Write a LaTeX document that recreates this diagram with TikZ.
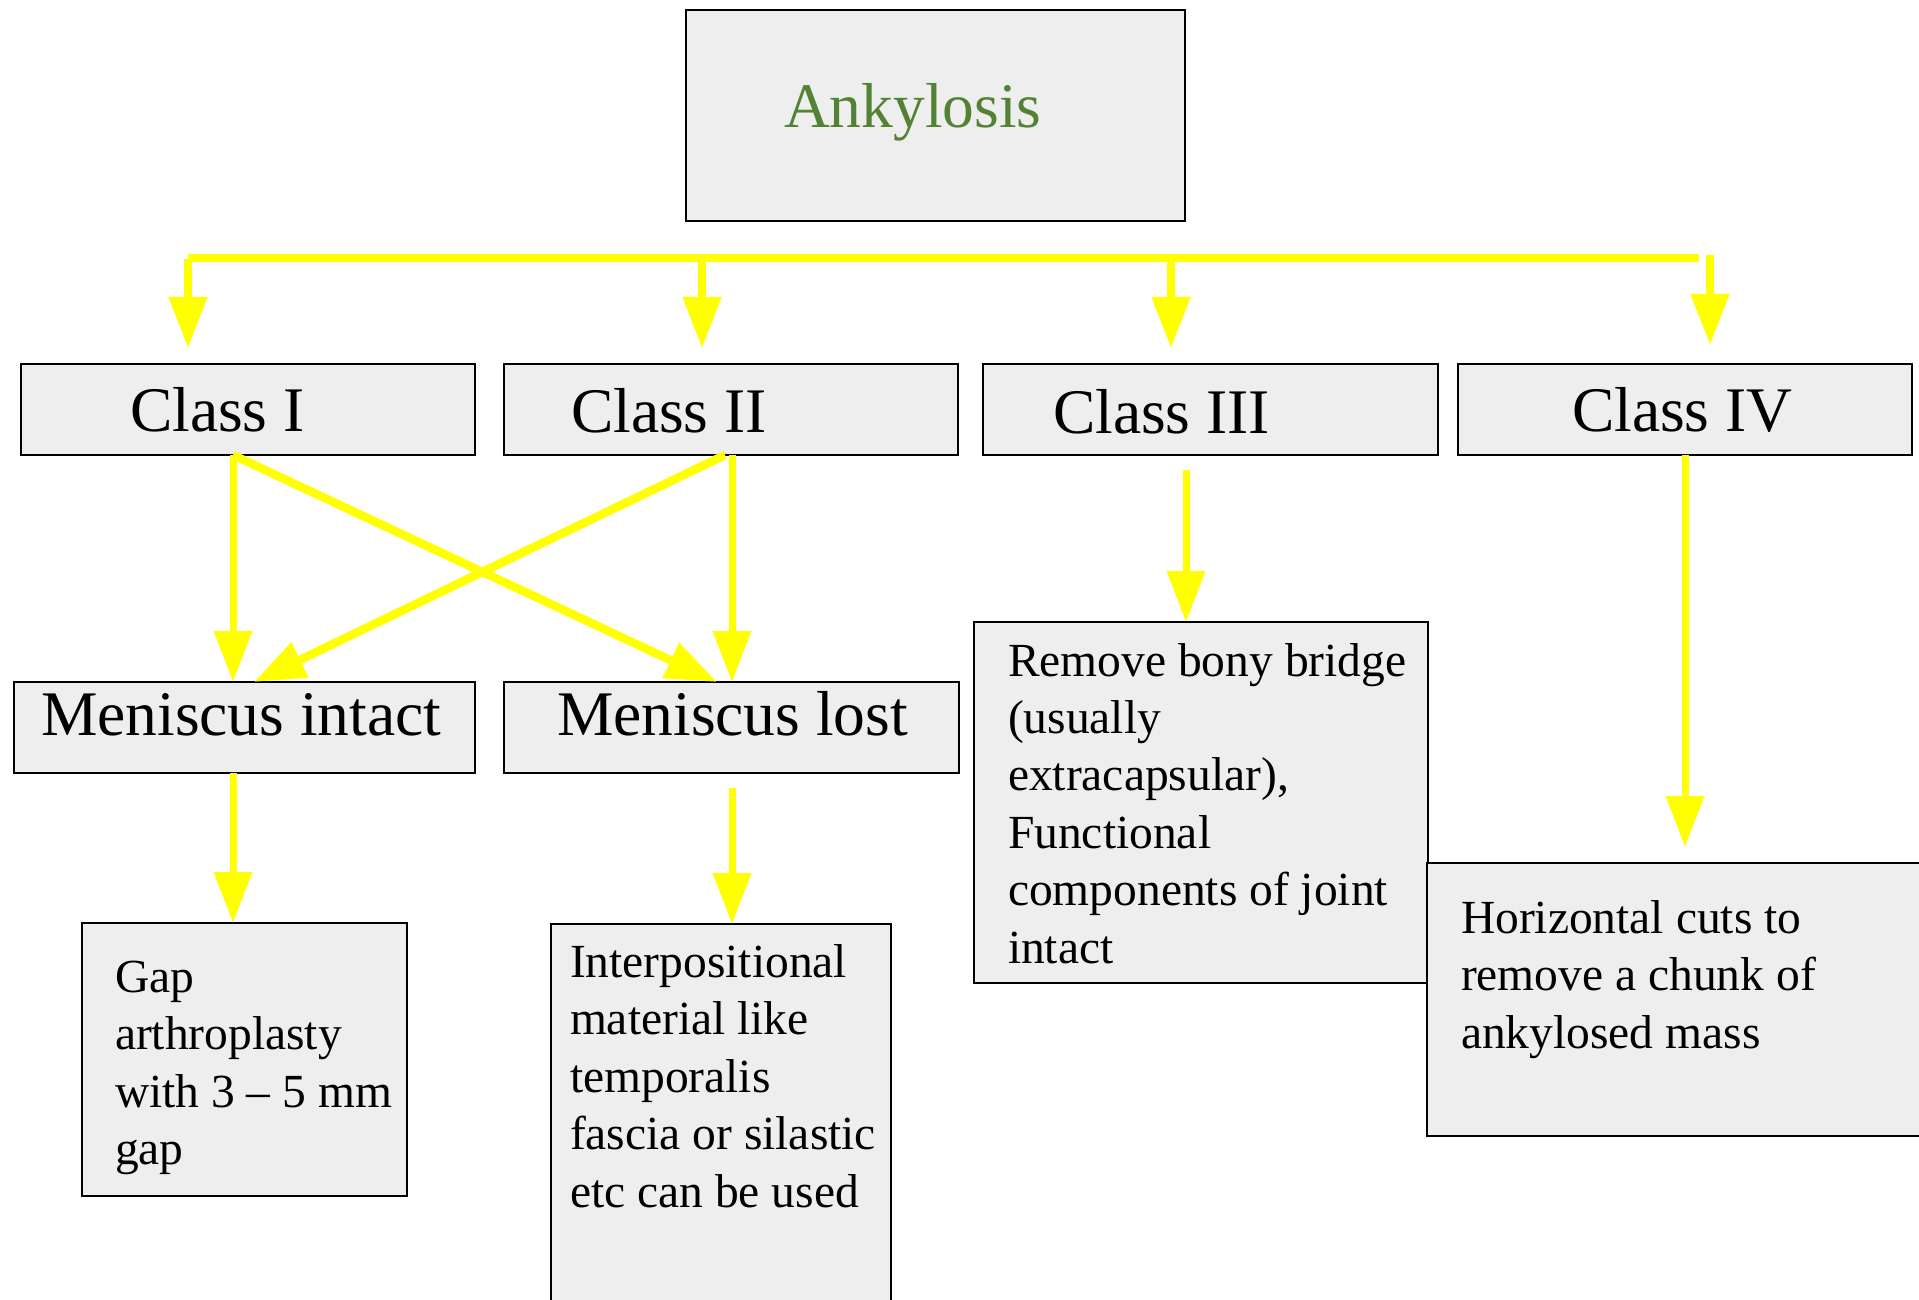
\documentclass[tikz,border=0pt]{standalone}
\usepackage{fontspec}
\setmainfont{Liberation Serif}
\usetikzlibrary{arrows.meta}
\definecolor{boxgray}{HTML}{EEEEEE}
\definecolor{ylw}{HTML}{FFFF00}
\definecolor{ankgreen}{RGB}{84,130,53}
\newcommand\bigtxt{\fontsize{31.75pt}{38pt}\selectfont}
\newcommand\smtxt{\fontsize{23.75pt}{28.75pt}\selectfont}
\begin{document}
\begin{tikzpicture}[x=0.5pt,y=-0.5pt,
  box/.style={draw=black, line width=1pt, fill=boxgray, anchor=north west,
              inner sep=0pt, outer sep=0pt},
  big/.style={anchor=base west, inner sep=0pt, outer sep=0pt, font=\bigtxt},
  sm/.style={anchor=base west, inner sep=0pt, outer sep=0pt, font=\smtxt},
  yarrow/.style={draw=ylw, line width=3.5pt, -{Triangle[length=25.5pt,width=18.5pt]}},
  yarrowd/.style={draw=ylw, line width=4.25pt, -{Triangle[length=25.5pt,width=18.5pt]}},
  ybus/.style={draw=ylw, line width=4pt}]
\path[use as bounding box] (0,0) rectangle (1919,1300);
\begin{scope}
\clip (0,0) rectangle (1919,1300);
% boxes
\node[box, minimum width=249.5pt, minimum height=105.5pt] (ank) at (686,10) {};
\node[box, minimum width=227pt, minimum height=45.5pt] (c1) at (21,364) {};
\node[box, minimum width=227pt, minimum height=45.5pt] (c2) at (504,364) {};
\node[box, minimum width=227.5pt, minimum height=45.5pt] (c3) at (983,364) {};
\node[box, minimum width=227pt, minimum height=45.5pt] (c4) at (1458,364) {};
\node[box, minimum width=230.5pt, minimum height=45.5pt] (mi) at (14,682) {};
\node[box, minimum width=227.5pt, minimum height=45.5pt] (ml) at (504,682) {};
\node[box, minimum width=162.5pt, minimum height=136.5pt] (gap) at (82,923) {};
\node[box, minimum width=170pt, minimum height=203pt] (inter) at (551,924) {};
\node[box, minimum width=227pt, minimum height=180.5pt] (rem) at (974,622) {};
\node[box, minimum width=254pt, minimum height=136.5pt] (hor) at (1427,863) {};
\end{scope}

% texts
\node[big, text=ankgreen] (tank) at (784,128) {Ankylosis};
\node[big] (tc1) at (130,431) {Class I};
\node[big] (tc2) at (571,433) {Class II};
\node[big] (tc3) at (1053,434) {Class III};
\node[big] (tc4) at (1572,431) {Class IV};
\node[big] (tmi) at (41,735) {Meniscus intact};
\node[big] (tml) at (557,735) {Meniscus lost};

\node[sm] (tg1) at (115,992) {Gap};
\node[sm] (tg2) at (115,1049.6) {arthroplasty};
\node[sm] (tg3) at (115,1107.2) {with 3 – 5 mm};
\node[sm] (tg4) at (115,1164.8) {gap};

\node[sm] (ti1) at (570,977) {Interpositional};
\node[sm] (ti2) at (570,1034.5) {material like};
\node[sm] (ti3) at (570,1092) {temporalis};
\node[sm] (ti4) at (570,1149.5) {fascia or silastic};
\node[sm] (ti5) at (570,1207) {etc can be used};

\node[sm] (tr1) at (1008,676) {Remove bony bridge};
\node[sm] (tr2) at (1008,733.4) {(usually};
\node[sm] (tr3) at (1008,790.8) {extracapsular),};
\node[sm] (tr4) at (1008,848.2) {Functional};
\node[sm] (tr5) at (1008,905.6) {components of joint};
\node[sm] (tr6) at (1008,963) {intact};

\node[sm] (th1) at (1461,933) {Horizontal cuts to};
\node[sm] (th2) at (1461,990.5) {remove a chunk of};
\node[sm] (th3) at (1461,1048) {ankylosed mass};

% x positions of connectors
\coordinate (xA) at (233,0);
\coordinate (xAd) at (254,0);
\coordinate (xB) at (732,0);
\coordinate (xBd) at (725,0);
\coordinate (xLd) at (717,0);
\coordinate (xC) at (1186,0);
\coordinate (xD) at (1685,0);
% free ends
\coordinate (busL) at (188,258.5);
\coordinate (busR) at (1699,258.5);
\coordinate (d1s) at (188,259);
\coordinate (d1t) at (188,348);
\coordinate (d2s) at (702,258.5);
\coordinate (d2t) at (702,348);
\coordinate (d3s) at (1171,258.5);
\coordinate (d3t) at (1171,348);
\coordinate (d4s) at (1710,255);
\coordinate (d4t) at (1710,345);
\coordinate (mls) at (732,788);
\coordinate (c3s) at (1186,470);
\coordinate (c4t) at (1685,847);

% top bus
\draw[ybus] (busL) -- (busR);
\draw[yarrow, line width=4pt] (d1s) -- (d1t);
\draw[yarrow, line width=4pt] (d2s) -- (d2t);
\draw[yarrow, line width=4pt] (d3s) -- (d3t);
\draw[yarrow, line width=4pt] (d4s) -- (d4t);

% class I / II to meniscus
\draw[yarrow] (c1.south -| xA) -- (mi.north -| xA);
\draw[yarrowd] (c1.south -| xA) -- (ml.north -| xLd);
\draw[yarrowd] (c2.south -| xBd) -- (mi.north -| xAd);
\draw[yarrow] (c2.south -| xB) -- (ml.north -| xB);

% meniscus to treatment
\draw[yarrow] (mi.south -| xA) -- (gap.north -| xA);
\draw[yarrow] (mls) -- (inter.north -| xB);

% class III / IV
\draw[yarrow] (c3s) -- (rem.north -| xC);
\draw[yarrow] (c4.south -| xD) -- (c4t);
\end{tikzpicture}
\end{document}
